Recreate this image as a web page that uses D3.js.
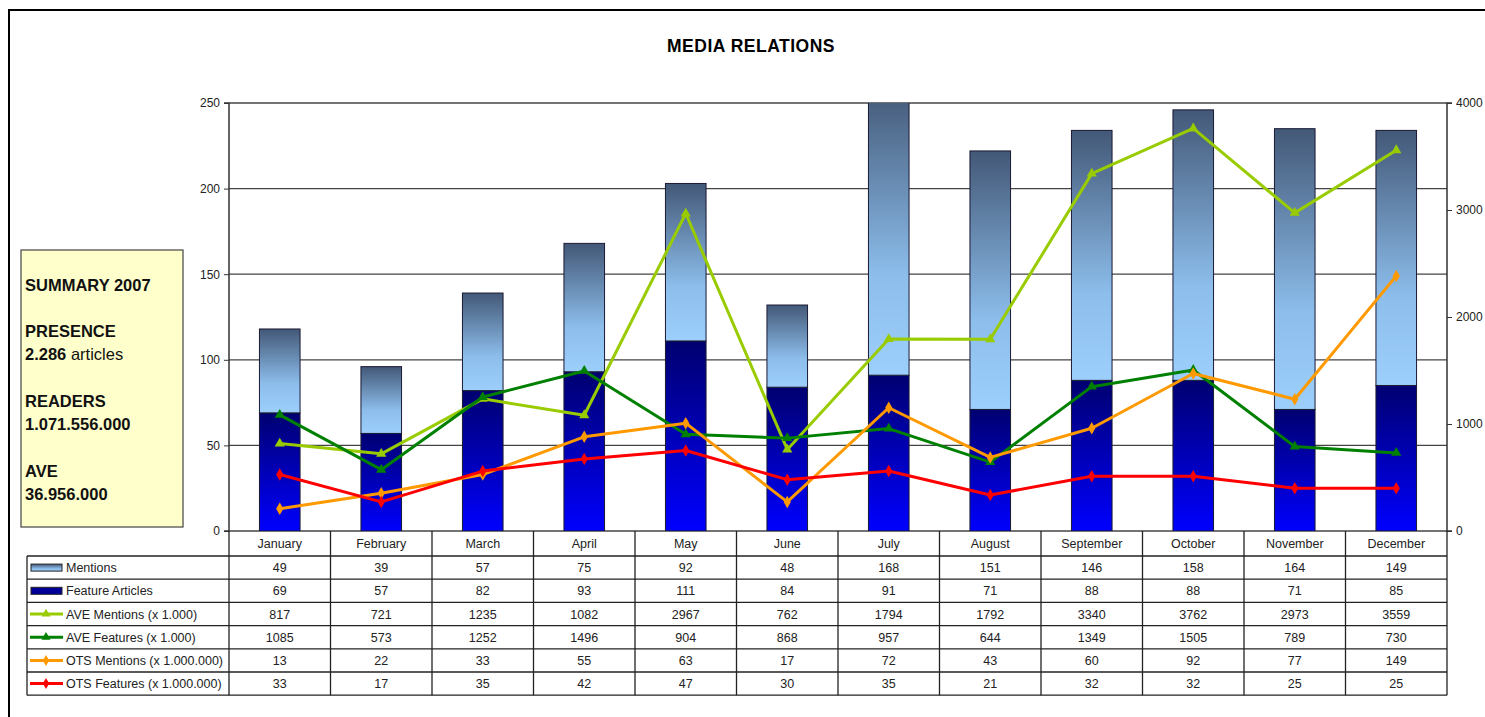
<!DOCTYPE html>
<html>
<head>
<meta charset="utf-8">
<script src="https://cdn.jsdelivr.net/npm/d3@7"></script>
<style>
  body { margin: 0; background: #fff; }
  svg { font-family: "Liberation Sans", Arial, sans-serif; }
</style>
</head>
<body>
<div id="chart"></div>
<script>
// Data
const months = ["January", "February", "March", "April", "May", "June", "July",
                "August", "September", "October", "November", "December"];
const mentions = [49, 39, 57, 75, 92, 48, 168, 151, 146, 158, 164, 149];
const features = [69, 57, 82, 93, 111, 84, 91, 71, 88, 88, 71, 85];
const aveMentions = [817, 721, 1235, 1082, 2967, 762, 1794, 1792, 3340, 3762, 2973, 3559];
const aveFeatures = [1085, 573, 1252, 1496, 904, 868, 957, 644, 1349, 1505, 789, 730];
const otsMentions = [13, 22, 33, 55, 63, 17, 72, 43, 60, 92, 77, 149];
const otsFeatures = [33, 17, 35, 42, 47, 30, 35, 21, 32, 32, 25, 25];
const leftTicks = [0, 50, 100, 150, 200, 250];
const rightTicks = [0, 1000, 2000, 3000, 4000];

let width = 1485, height = 717;
let margin = {top: 103, bottom: 531, left: 229, right: 1447};

let svg = d3.select("#chart")
            .append("svg")
            .attr("width", width)
            .attr("height", height);

// outer frame
svg.append("rect")
   .attr("x", 9).attr("y", 10)
   .attr("width", 1600).attr("height", 900)
   .attr("fill", "none").attr("stroke", "#000").attr("stroke-width", 2);

// gradients
const defs = svg.append("defs");
const gMent = defs.append("linearGradient").attr("id", "gMent")
                  .attr("x1", 0).attr("y1", 0).attr("x2", 0).attr("y2", 1);
gMent.append("stop").attr("offset", "0%").attr("stop-color", "#435877");
gMent.append("stop").attr("offset", "65%").attr("stop-color", "#8cbdeb");
gMent.append("stop").attr("offset", "100%").attr("stop-color", "#9dcffc");
const gFeat = defs.append("linearGradient").attr("id", "gFeat")
                  .attr("x1", 0).attr("y1", 0).attr("x2", 0).attr("y2", 1);
gFeat.append("stop").attr("offset", "0%").attr("stop-color", "#000070");
gFeat.append("stop").attr("offset", "100%").attr("stop-color", "#0000ff");
defs.append("clipPath").attr("id", "plotClip")
    .append("rect")
    .attr("x", margin.left).attr("y", margin.top)
    .attr("width", margin.right - margin.left)
    .attr("height", margin.bottom - margin.top);

// title
svg.append("text")
   .attr("x", 751).attr("y", 52)
   .attr("text-anchor", "middle")
   .style("font-weight", "bold").style("font-size", "17.5px")
   .style("letter-spacing", "0.5px")
   .text("MEDIA RELATIONS");

// scales
let xscale = d3.scaleBand()
               .domain(months)
               .range([margin.left, margin.right]);
let yLeft = d3.scaleLinear().domain([0, 250]).range([margin.bottom, margin.top]);
let yRight = d3.scaleLinear().domain([0, 4000]).range([margin.bottom, margin.top]);

// gridlines
svg.append("g")
   .selectAll("line")
   .data(leftTicks)
   .enter()
   .append("line")
   .attr("x1", margin.left).attr("x2", margin.right)
   .attr("y1", d => yLeft(d)).attr("y2", d => yLeft(d))
   .attr("stroke", "#444").attr("stroke-width", 1.3);

// stacked bars
const barW = xscale.bandwidth() * 0.4;
const bars = svg.append("g").attr("clip-path", "url(#plotClip)");
months.forEach((m, i) => {
    const x = xscale(m) + xscale.bandwidth() / 2 - barW / 2;
    bars.append("rect")
        .attr("x", x).attr("width", barW)
        .attr("y", yLeft(features[i]))
        .attr("height", yLeft(0) - yLeft(features[i]))
        .attr("fill", "url(#gFeat)")
        .attr("stroke", "#1a1a33").attr("stroke-width", 1);
    bars.append("rect")
        .attr("x", x).attr("width", barW)
        .attr("y", yLeft(features[i] + mentions[i]))
        .attr("height", yLeft(features[i]) - yLeft(features[i] + mentions[i]))
        .attr("fill", "url(#gMent)")
        .attr("stroke", "#1a1a33").attr("stroke-width", 1);
});

// line series
const series = [
    {name: "AVE Mentions (x 1.000)", values: aveMentions, scale: yRight, color: "#99cc00", symbol: d3.symbolTriangle},
    {name: "AVE Features (x 1.000)", values: aveFeatures, scale: yRight, color: "#008000", symbol: d3.symbolTriangle},
    {name: "OTS Mentions (x 1.000.000)", values: otsMentions, scale: yLeft, color: "#ff9900", symbol: d3.symbolDiamond},
    {name: "OTS Features (x 1.000.000)", values: otsFeatures, scale: yLeft, color: "#ff0000", symbol: d3.symbolDiamond}
];
const cx = m => xscale(m) + xscale.bandwidth() / 2;
series.forEach(s => {
    let line = d3.line()
                 .x((d, i) => cx(months[i]))
                 .y(d => s.scale(d));
    svg.append("path")
       .datum(s.values)
       .attr("d", line)
       .attr("fill", "none")
       .attr("stroke", s.color)
       .attr("stroke-width", 3)
       .attr("stroke-linejoin", "round");
    svg.append("g")
       .selectAll("path")
       .data(s.values)
       .enter()
       .append("path")
       .attr("d", d3.symbol().type(s.symbol).size(45))
       .attr("transform", (d, i) => `translate(${cx(months[i])},${s.scale(d)})`)
       .attr("fill", s.color);
});

// axes
let leftAxis = svg.append("g")
   .attr("transform", `translate(${margin.left},0)`)
   .call(d3.axisLeft(yLeft).tickValues(leftTicks).tickFormat(d3.format("d")).tickSize(5).tickPadding(4));
let rightAxis = svg.append("g")
   .attr("transform", `translate(${margin.right},0)`)
   .call(d3.axisRight(yRight).tickValues(rightTicks).tickFormat(d3.format("d")).tickSize(5).tickPadding(4));
[leftAxis, rightAxis].forEach(a => {
    a.select(".domain").attr("stroke", "#333").attr("stroke-width", 1.5);
    a.selectAll(".tick line").attr("stroke", "#333");
    a.selectAll("text").style("font-size", "12px").attr("fill", "#222")
     .style("font-family", "'Liberation Sans', Arial, sans-serif");
});
leftAxis.select(".domain").attr("d", `M-5,${margin.top}H0V${margin.bottom}H-5`);
rightAxis.select(".domain").attr("d", `M5,${margin.top}H0V${margin.bottom}H5`);

// data table
const tableTop = margin.bottom, headerH = 25, rowH = 23.2, labelLeft = 27;
const rows = [
    {name: "Mentions", values: mentions, key: "rect", fill: "url(#gMent)"},
    {name: "Feature Articles", values: features, key: "rect", fill: "#000099"}
].concat(series.map(s => ({name: s.name, values: s.values, key: "line", color: s.color, symbol: s.symbol})));

const table = svg.append("g");
const tableBottom = tableTop + headerH + rows.length * rowH;
const lineStyle = sel => sel.attr("stroke", "#222").attr("stroke-width", 1.3);

// month header
table.selectAll(".mh")
     .data(months)
     .enter()
     .append("text")
     .attr("x", d => cx(d))
     .attr("y", tableTop + headerH / 2 + 4)
     .attr("text-anchor", "middle")
     .style("font-size", "12.5px").attr("fill", "#222")
     .text(d => d);

// horizontal rules
d3.range(rows.length + 1).forEach(r => {
    const y = tableTop + headerH + r * rowH;
    table.append("line").attr("x1", labelLeft).attr("x2", margin.right)
         .attr("y1", y).attr("y2", y).call(lineStyle);
});
// vertical rules
months.forEach(m => {
    table.append("line").attr("x1", xscale(m)).attr("x2", xscale(m))
         .attr("y1", tableTop).attr("y2", tableBottom).call(lineStyle);
});
table.append("line").attr("x1", margin.right).attr("x2", margin.right)
     .attr("y1", tableTop).attr("y2", tableBottom).call(lineStyle);
table.append("line").attr("x1", labelLeft).attr("x2", labelLeft)
     .attr("y1", tableTop + headerH).attr("y2", tableBottom).call(lineStyle);

rows.forEach((row, r) => {
    const yc = tableTop + headerH + r * rowH + rowH / 2;
    if (row.key === "rect") {
        table.append("rect")
             .attr("x", 31).attr("y", yc - 3.5).attr("width", 31).attr("height", 7)
             .attr("fill", row.fill).attr("stroke", "#222").attr("stroke-width", 1);
    } else {
        table.append("line").attr("x1", 30).attr("x2", 63)
             .attr("y1", yc).attr("y2", yc)
             .attr("stroke", row.color).attr("stroke-width", 3);
        table.append("path")
             .attr("d", d3.symbol().type(row.symbol).size(35))
             .attr("transform", `translate(46,${yc})`)
             .attr("fill", row.color);
    }
    table.append("text")
         .attr("x", 66).attr("y", yc + 4.5)
         .style("font-size", "12.5px").attr("fill", "#222")
         .text(row.name);
    table.append("g")
         .selectAll("text")
         .data(row.values)
         .enter()
         .append("text")
         .attr("x", (d, i) => cx(months[i]))
         .attr("y", yc + 4.5)
         .attr("text-anchor", "middle")
         .style("font-size", "12.5px").attr("fill", "#222")
         .text(d => d);
});

// summary box
svg.append("rect")
   .attr("x", 21).attr("y", 250).attr("width", 162).attr("height", 277)
   .attr("fill", "#ffffcc").attr("stroke", "#444").attr("stroke-width", 1.2);
const summary = [
    {y: 291, parts: [["SUMMARY 2007", true]]},
    {y: 337, parts: [["PRESENCE", true]]},
    {y: 360, parts: [["2.286", true], [" articles", false]]},
    {y: 407, parts: [["READERS", true]]},
    {y: 430, parts: [["1.071.556.000", true]]},
    {y: 477, parts: [["AVE", true]]},
    {y: 500, parts: [["36.956.000", true]]}
];
summary.forEach(s => {
    const t = svg.append("text").attr("x", 25).attr("y", s.y)
                 .style("font-size", "16.5px").attr("fill", "#111");
    s.parts.forEach(p => {
        t.append("tspan").style("font-weight", p[1] ? "bold" : "normal").text(p[0]);
    });
});
</script>
</body>
</html>
